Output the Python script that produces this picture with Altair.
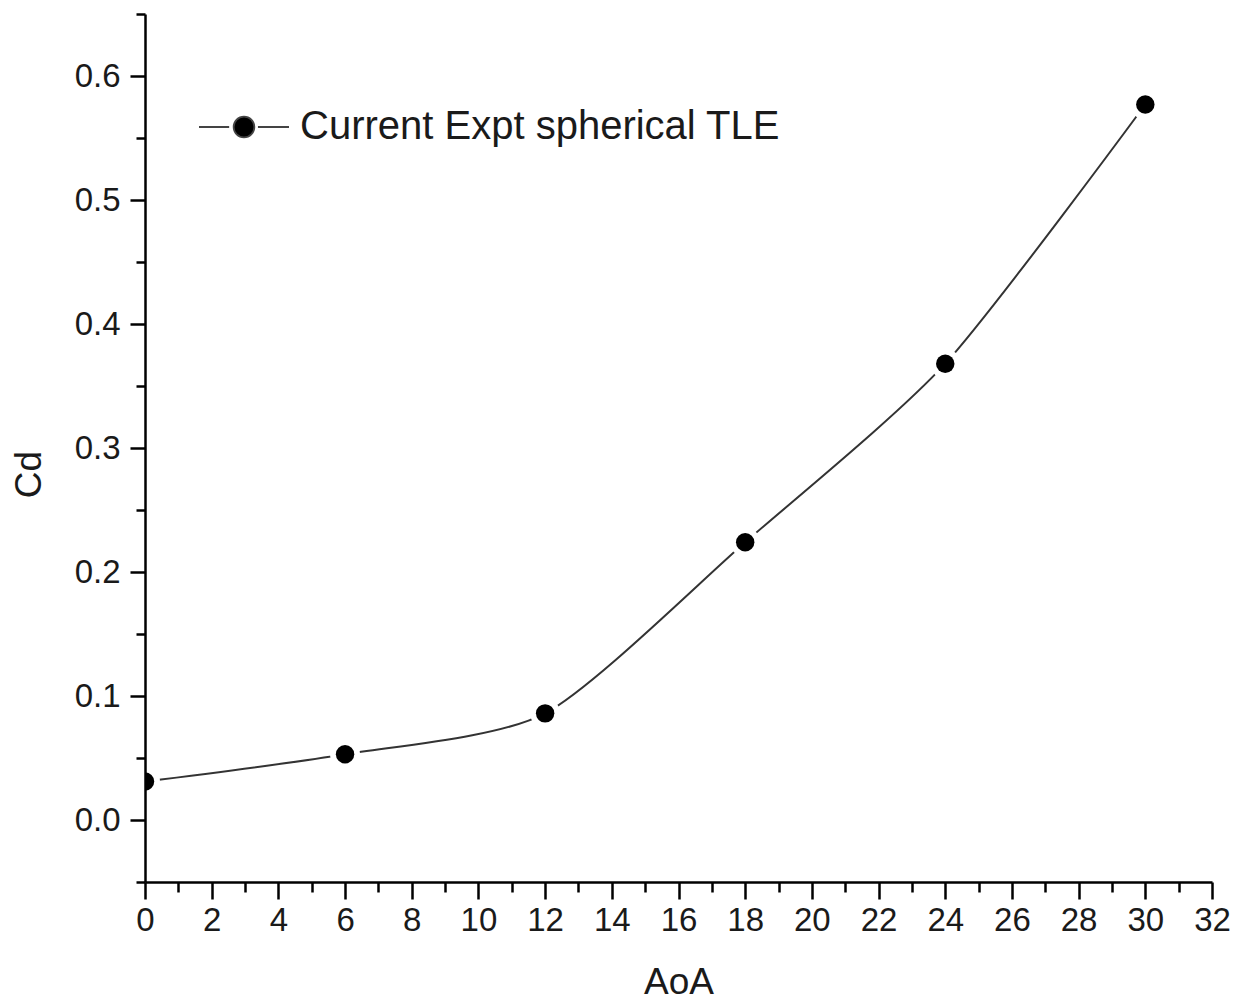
import altair as alt
import pandas as pd

# Data
aoa = [0, 6, 12, 18, 24, 30]
cd = [0.031, 0.053, 0.086, 0.224, 0.368, 0.577]
series_name = "Current Expt spherical TLE"

x_major_ticks = list(range(0, 33, 2))
x_minor_ticks = list(range(1, 33, 2))
y_major_ticks = [round(0.1 * i, 1) for i in range(7)]
y_minor_ticks = [round(-0.05 + 0.1 * i, 2) for i in range(8)]

df = pd.DataFrame({"AoA": aoa, "Cd": cd, "series": [series_name] * len(aoa)})

FONT = "Liberation Sans"
TXT = "#1a1a1a"

common = dict(
    grid=False,
    domainColor="black",
    domainWidth=2.5,
    tickColor="black",
    tickWidth=2.5,
    labelFont=FONT,
    labelFontSize=33,
    labelColor=TXT,
    labelFlush=False,
    titleFont=FONT,
    titleFontSize=37,
    titleFontWeight="normal",
    titleColor=TXT,
    zindex=1,
)

x_axis = alt.Axis(
    values=x_major_ticks,
    title="AoA",
    orient="bottom",
    tickSize=17,
    format="d",
    labelPadding=5,
    labelBaseline="top",
    titleY=111,
    titleBaseline="alphabetic",
    **common,
)

y_axis = alt.Axis(
    values=y_major_ticks,
    title="Cd",
    orient="left",
    tickSize=15,
    format=".1f",
    labelPadding=10,
    titleAngle=-90,
    titleX=-105,
    titleY=460,
    titleAlign="center",
    titleBaseline="alphabetic",
    **common,
)

x_minor_axis = alt.Axis(
    values=x_minor_ticks,
    title=None,
    orient="bottom",
    labels=False,
    domain=False,
    grid=False,
    tickColor="black",
    tickWidth=2.5,
    tickSize=10,
    zindex=1,
)

y_minor_axis = alt.Axis(
    values=y_minor_ticks,
    title=None,
    orient="left",
    labels=False,
    domain=False,
    grid=False,
    tickColor="black",
    tickWidth=2.5,
    tickSize=9,
    zindex=1,
)

xs = alt.Scale(domain=[0, 32], nice=False, zero=False)
ys = alt.Scale(domain=[-0.05, 0.65], nice=False, zero=False)

base = alt.Chart(df)

# invisible layer that carries the minor-tick axes
minor = base.mark_point(opacity=0, size=1).encode(
    x=alt.X("AoA:Q", scale=xs, axis=x_minor_axis),
    y=alt.Y("Cd:Q", scale=ys, axis=y_minor_axis),
)

line = base.mark_line(interpolate="cardinal", tension=0.3, strokeWidth=2, clip=True).encode(
    x=alt.X("AoA:Q", scale=xs, axis=x_axis),
    y=alt.Y("Cd:Q", scale=ys, axis=y_axis),
    color=alt.value("#333333"),
)

gaps = base.mark_point(filled=True, shape="circle", size=900, opacity=1, clip=True).encode(
    x=alt.X("AoA:Q", scale=xs, axis=None),
    y=alt.Y("Cd:Q", scale=ys, axis=None),
    color=alt.value("white"),
)

legend_symbol = (
    "M-1,0H-0.33M0.31,0H1"
    "M-0.23,0A0.23,0.23,0,1,0,0.23,0A0.23,0.23,0,1,0,-0.23,0Z"
)

points = base.mark_point(filled=True, shape="circle", size=340, opacity=1, clip=True).encode(
    x=alt.X("AoA:Q", scale=xs, axis=None),
    y=alt.Y("Cd:Q", scale=ys, axis=None),
    color=alt.Color(
        "series:N",
        scale=alt.Scale(range=["black"]),
        legend=alt.Legend(
            title=None,
            orient="none",
            legendX=53,
            legendY=67,
            padding=0,
            symbolType=legend_symbol,
            symbolSize=8100,
            symbolStrokeColor="#444444",
            symbolFillColor="black",
            symbolStrokeWidth=1.8,
            symbolOpacity=1,
            labelFont=FONT,
            labelFontSize=40,
            labelColor=TXT,
            labelOffset=10,
            labelLimit=0,
        ),
    ),
)

chart = (
    alt.layer(line, minor, gaps, points)
    .resolve_axis(x="independent", y="independent")
    .properties(
        width=1067,
        height=868,
        autosize=alt.AutoSizeParams(type="none"),
        padding={"left": 145, "top": 14, "right": 34, "bottom": 122},
        background="white",
    )
    .configure_view(stroke=None)
)

chart.save("out.html", embed_options={"renderer": "svg", "actions": False})
